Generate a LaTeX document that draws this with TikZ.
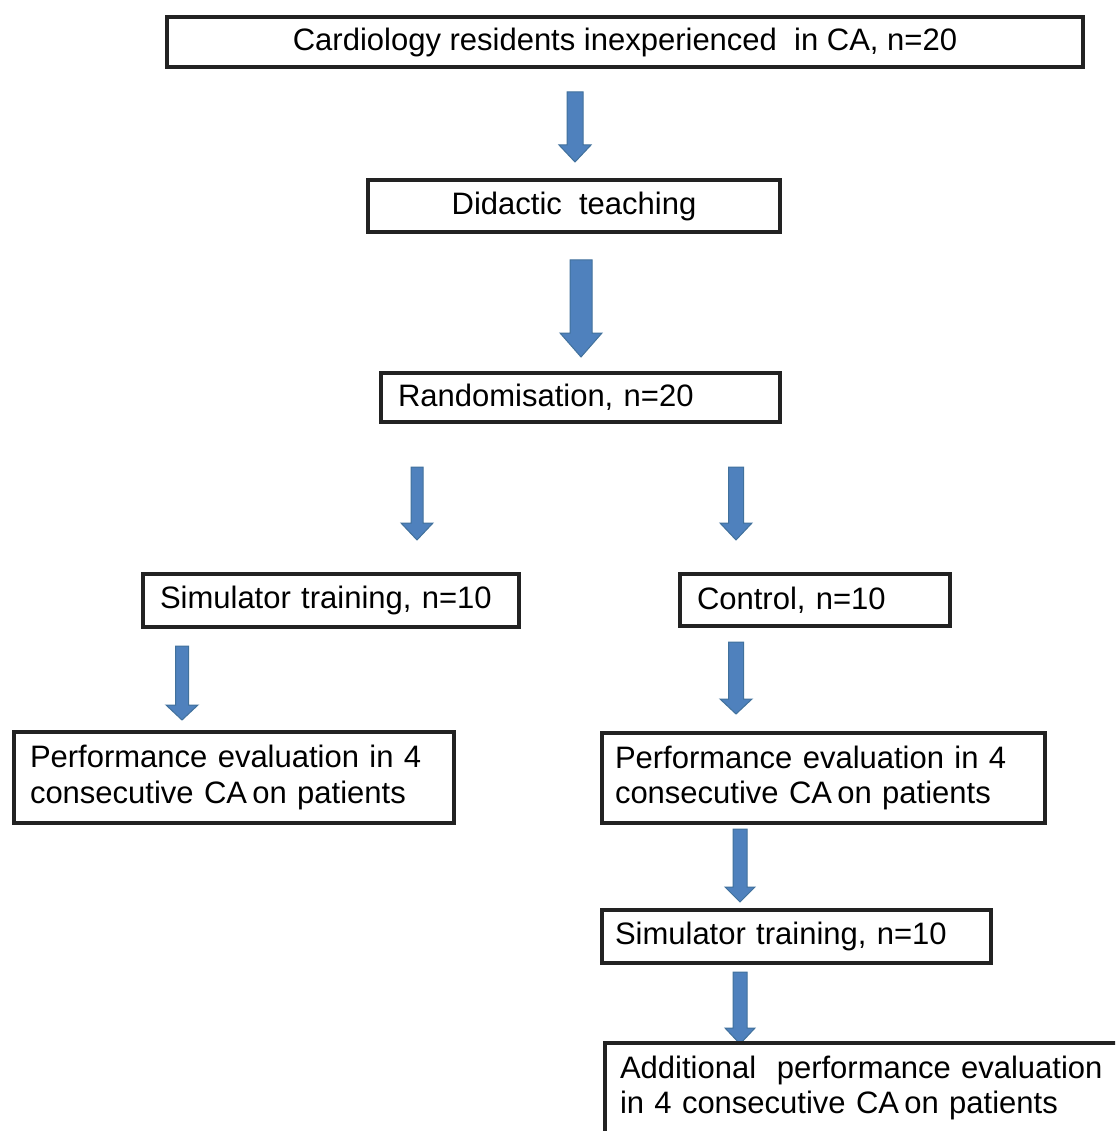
\documentclass[tikz,border=0pt]{standalone}
\usepackage{fontspec}
\setmainfont{Liberation Sans}
\usetikzlibrary{calc}
\definecolor{boxline}{HTML}{222222}
\definecolor{arrfill}{HTML}{4F81BD}
\definecolor{arrline}{HTML}{41719C}
\tikzset{
  box/.style={rectangle, draw=boxline, line width=3.2pt, outer sep=0pt,
    inner ysep=0pt, anchor=north west, fill=white,
    font=\fontsize{31}{35.5}\selectfont},
  cbox/.style={box, align=center, inner xsep=0pt},
  lbox/.style={box, align=left},
  arrowshape/.style={fill=arrfill, draw=arrline, line width=1pt, line join=miter}
}
\newcommand\blockarrow[5]{%
  \path[arrowshape] let \p1=(#1), \p2=(#2) in
    (\x1-#3,\y1) -- (\x1+#3,\y1) -- (\x1+#3,\y2+#5) -- (\x1+#4,\y2+#5)
    -- (\x2,\y2) -- (\x1-#4,\y2+#5) -- (\x1-#3,\y2+#5) -- cycle;}
\begin{document}
\begin{tikzpicture}[x=1pt,y=-1pt]
\useasboundingbox (0,0) rectangle (1115,1131);
\clip (0,0) rectangle (1115,1131);
\fill[white] (0,0) rectangle (1115,1131);

% arrows
\coordinate (a1t) at (575,92);   \coordinate (a1b) at (575,162);
\coordinate (a2t) at (581,260);  \coordinate (a2b) at (581,357);
\coordinate (a3lt) at (417,467); \coordinate (a3lb) at (417,540);
\coordinate (a3rt) at (736,467); \coordinate (a3rb) at (736,540);
\coordinate (a4lt) at (182,646); \coordinate (a4lb) at (182,720);
\coordinate (a4rt) at (736,642); \coordinate (a4rb) at (736,714);
\coordinate (a5t) at (740,829);  \coordinate (a5b) at (740,902);
\coordinate (a6t) at (740,972);  \coordinate (a6b) at (740,1044);

\blockarrow{a1t}{a1b}{8pt}{16pt}{17pt}
\blockarrow{a2t}{a2b}{11pt}{21pt}{24pt}
\blockarrow{a3lt}{a3lb}{6pt}{16pt}{17pt}
\blockarrow{a3rt}{a3rb}{7.5pt}{16pt}{17pt}
\blockarrow{a4lt}{a4lb}{6.5pt}{16pt}{15pt}
\blockarrow{a4rt}{a4rb}{7.5pt}{16pt}{15pt}
\blockarrow{a5t}{a5b}{7pt}{15pt}{15pt}
\blockarrow{a6t}{a6b}{7pt}{15pt}{16pt}

% boxes
\node[cbox, minimum width=916pt, minimum height=50pt] (b1) at (167,17)
  {\raisebox{2pt}{Cardiology residents inexperienced\ \ in CA, n=20}};
\node[cbox, minimum width=412pt, minimum height=52pt] (b2) at (368,180)
  {Didactic\ \ teaching};
\node[lbox, inner xsep=17pt, text width=365pt, minimum height=49pt] (b3) at (381,373)
  {Randomisation, n=20};
\node[lbox, inner xsep=17pt, text width=342pt, minimum height=53pt] (b4) at (143,574)
  {Simulator training, n=10};
\node[lbox, inner xsep=17pt, text width=236pt, minimum height=52pt] (b5) at (680,574)
  {Control, n=10};
\node[lbox, inner xsep=16pt, text width=408pt, minimum height=91pt] (b6) at (14,732)
  {\mbox{Performance evaluation in 4}\\\mbox{consecutive CA\hspace{-5pt} on patients}};
\node[lbox, inner xsep=13pt, text width=417pt, minimum height=90pt] (b7) at (602,733)
  {\mbox{Performance evaluation in 4}\\\mbox{consecutive CA\hspace{-5pt} on patients}};
\node[lbox, inner xsep=13pt, text width=363pt, minimum height=53pt] (b8) at (602,910)
  {Simulator training, n=10};
\node[lbox, inner xsep=15pt, text width=495pt, minimum height=90pt] (b9) at (605,1043)
  {\mbox{Additional\ \ performance evaluation}\\\mbox{in 4 consecutive CA\hspace{-5pt} on patients}};
\end{tikzpicture}
\end{document}
